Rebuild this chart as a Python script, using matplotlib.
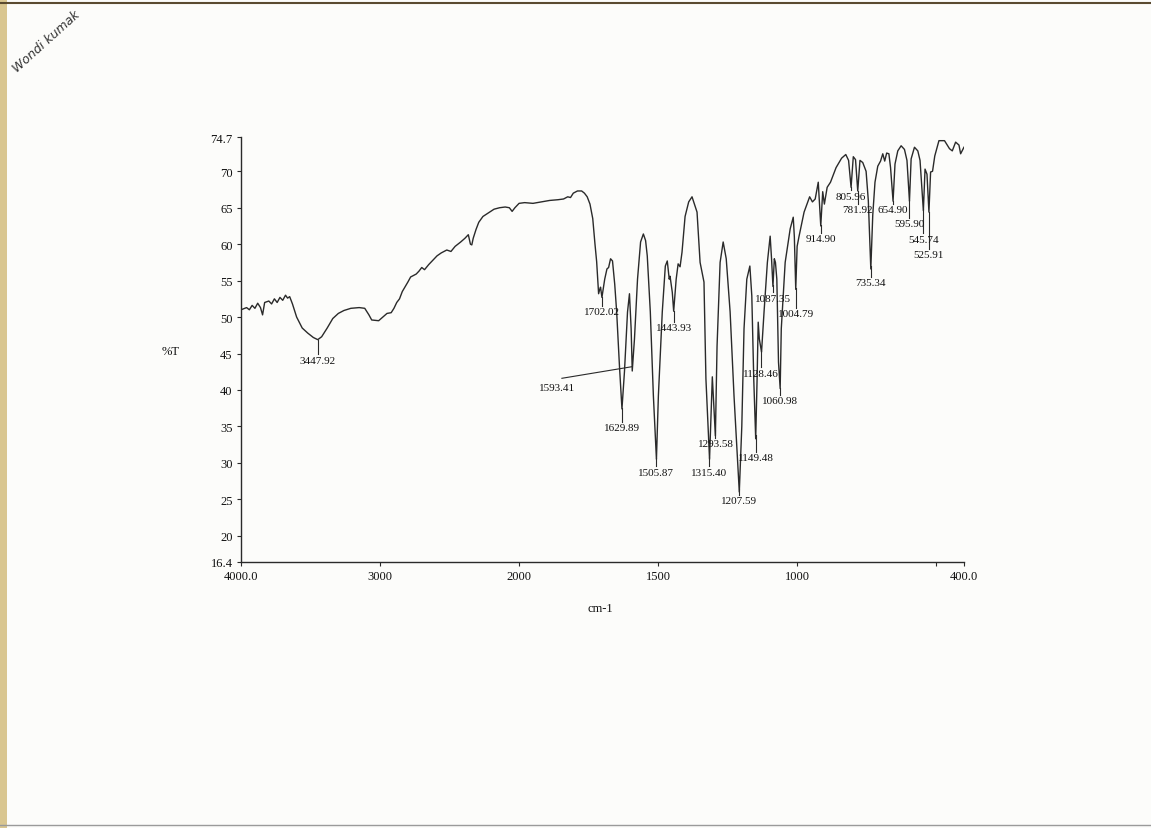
import matplotlib
matplotlib.use("Agg")
import matplotlib.pyplot as plt
import numpy as np
from matplotlib.patches import Rectangle
from matplotlib.lines import Line2D

plt.rcParams['font.family'] = ['Liberation Serif', 'DejaVu Serif']

# IR spectrum: wavenumber (cm-1) and %T
wn = [4000, 3960, 3940, 3920, 3900, 3880, 3860, 3845, 3830, 3800, 3780, 3760,
      3740, 3720, 3700, 3680, 3665, 3650, 3630, 3600, 3560, 3520, 3480, 3448,
      3420, 3380, 3340, 3300, 3260, 3210, 3150, 3110, 3080, 3060, 3010, 2980,
      2950, 2920, 2900, 2880, 2860, 2840, 2800, 2780, 2740, 2720, 2700, 2680,
      2650, 2620, 2590, 2560, 2520, 2490, 2460, 2420, 2390, 2365, 2350, 2340,
      2330, 2310, 2290, 2260, 2220, 2180, 2140, 2100, 2070, 2050, 2030, 2000,
      1980, 1950, 1920, 1890, 1860, 1840, 1825, 1815, 1805, 1790, 1775, 1765,
      1755, 1745, 1735, 1727, 1721, 1714, 1710, 1707, 1702, 1697, 1692, 1684,
      1678, 1671, 1664, 1656, 1649, 1639, 1630, 1621, 1610, 1603, 1597, 1593,
      1585, 1574, 1563, 1553, 1545, 1539, 1528, 1517, 1506, 1499, 1485, 1474,
      1467, 1460, 1457, 1449, 1444, 1435, 1428, 1421, 1414, 1403, 1390, 1378,
      1367, 1360, 1349, 1335, 1328, 1315, 1305, 1294, 1288, 1277, 1266, 1255,
      1241, 1227, 1218, 1208, 1199, 1191, 1181, 1170, 1163, 1156, 1149, 1144,
      1140, 1136, 1128, 1119, 1107, 1097, 1092, 1087, 1082, 1078, 1073, 1067,
      1061, 1057, 1043, 1025, 1014, 1010, 1005, 1000, 993, 975, 955, 945,
      935, 924, 915, 908, 902, 892, 880, 860, 840, 825, 815, 806,
      798, 790, 782, 774, 764, 752, 744, 735, 728, 720, 710, 700,
      692, 685, 678, 670, 664, 655, 648, 638, 626, 614, 605, 596,
      590, 578, 566, 558, 546, 540, 533, 526, 520, 513, 505, 490,
      470, 452, 442, 430, 418, 412, 400]
pct_t = [51.0, 51.3, 51.0, 51.6, 51.2, 51.9, 51.3, 50.3, 52.0, 52.2, 51.8, 52.5,
         52.0, 52.7, 52.3, 53.0, 52.6, 52.8, 51.8, 50.0, 48.5, 47.8, 47.2, 46.9,
         47.3, 48.5, 49.8, 50.5, 50.9, 51.2, 51.3, 51.2, 50.3, 49.6, 49.5, 50.0,
         50.5, 50.6, 51.2, 52.0, 52.5, 53.5, 54.8, 55.5, 55.9, 56.3, 56.8, 56.5,
         57.2, 57.8, 58.4, 58.8, 59.2, 59.0, 59.7, 60.3, 60.8, 61.3, 60.0, 59.9,
         60.8, 62.0, 63.0, 63.8, 64.3, 64.8, 65.0, 65.1, 65.0, 64.5, 65.0, 65.6,
         65.7, 65.6, 65.8, 66.0, 66.1, 66.2, 66.5, 66.4, 67.0, 67.3, 67.3, 67.0,
         66.5, 65.5, 63.5, 60.0, 57.6, 53.2, 53.8, 54.1, 52.7, 54.0, 55.2, 56.6,
         56.8, 58.0, 57.7, 54.5, 50.7, 43.3, 37.4, 42.5, 50.7, 53.2, 48.4, 42.6,
         47.0, 55.2, 60.3, 61.4, 60.5, 58.4, 50.7, 39.2, 30.5, 39.2, 50.7, 57.0,
         57.7, 55.2, 55.6, 53.4, 50.8, 55.2, 57.3, 56.9, 58.9, 63.8, 65.8, 66.5,
         65.2, 64.4, 57.5, 54.8, 41.5, 30.5, 41.8, 33.7, 46.0, 57.5, 60.3, 58.0,
         50.7, 39.2, 33.0, 26.0, 35.0, 48.4, 55.2, 57.0, 52.9, 41.5, 33.3, 41.5,
         49.3, 47.0, 45.2, 50.7, 57.5, 61.1, 58.0, 54.2, 58.0, 57.5, 55.2, 43.8,
         40.2, 48.4, 57.5, 62.1, 63.7, 61.0, 53.8, 59.7, 61.1, 64.4, 66.5, 65.8,
         66.2, 68.5, 62.5, 67.2, 65.5, 67.8, 68.5, 70.5, 71.8, 72.3, 71.5, 67.8,
         72.0, 71.6, 67.3, 71.5, 71.2, 70.0, 66.0, 56.6, 64.0, 68.5, 70.7, 71.4,
         72.4, 71.4, 72.5, 72.4, 70.5, 65.9, 71.0, 72.8, 73.5, 73.0, 71.5, 65.9,
         71.7, 73.3, 72.8, 71.5, 64.6, 70.3, 69.6, 64.4, 69.9, 70.0, 72.1, 74.2,
         74.2, 73.1, 72.8, 74.0, 73.6, 72.4, 73.3]

# peak labels and where their text sits (%T)
peak_wn = [3447.92, 1702.02, 1629.89, 1505.87, 1443.93, 1315.40, 1293.58,
           1207.59, 1149.48, 1128.46, 1087.35, 1060.98, 1004.79, 914.90,
           805.96, 781.92, 735.34, 654.90, 595.90, 545.74, 525.91]
label_y = [44.1, 50.7, 34.8, 28.7, 48.5, 28.7, 32.6, 24.8, 30.7, 42.3, 52.6,
           38.5, 50.5, 60.8, 66.6, 64.7, 54.7, 64.7, 62.8, 60.7, 58.6]

xticks = [4000, 3000, 2000, 1500, 1000, 500, 400]
xticklabels = ['4000.0', '3000', '2000', '1500', '1000', '', '400.0']
yticks = [16.4, 20, 25, 30, 35, 40, 45, 50, 55, 60, 65, 70, 74.7]
yticklabels = ['16.4', '20', '25', '30', '35', '40', '45', '50', '55', '60', '65', '70', '74.7']


def fwd(x):
    x = np.asarray(x, dtype=float)
    return np.where(x > 2000, 2000 + (x - 2000) / 2, x)


def inv(u):
    u = np.asarray(u, dtype=float)
    return np.where(u > 2000, 2000 + (u - 2000) * 2, u)


ink = '#2a2a2a'
fig = plt.figure(figsize=(11.51, 8.29), dpi=100, facecolor='#fcfcfa')
ax = fig.add_axes([0.2094, 0.3209, 0.6281, 0.5126])
ax.set_facecolor('none')
ax.set_xscale('function', functions=(fwd, inv))
ax.plot(wn, pct_t, color=ink, lw=1.0)
ax.set_xlim(4000, 400)
ax.set_ylim(16.4, 74.7)

for s in ['top', 'right']:
    ax.spines[s].set_visible(False)
for s in ['left', 'bottom']:
    ax.spines[s].set_color(ink)
    ax.spines[s].set_linewidth(1.0)

ax.set_xticks(xticks)
ax.set_xticklabels(xticklabels)
ax.set_yticks(yticks)
ax.set_yticklabels(yticklabels)
ax.xaxis.set_minor_locator(matplotlib.ticker.NullLocator())
ax.tick_params(axis='both', length=3, width=0.8, color=ink, labelcolor='#111111',
               labelsize=9, pad=3)

ax.set_ylabel('%T', rotation=0, fontsize=9, color='#111111')
ax.yaxis.set_label_coords(-0.098, 0.482)
ax.set_xlabel('cm-1', fontsize=9, color='#111111')
ax.xaxis.set_label_coords(0.497, -0.094)

# peak markers
xs = np.array(wn[::-1], dtype=float)
ys = np.array(pct_t[::-1], dtype=float)
for p, ly in zip(peak_wn, label_y):
    ymin = np.interp(p, xs, ys)
    ax.plot([p, p], [ymin, ly + 0.8], color=ink, lw=0.8)
    ax.text(p, ly, f'{p:.2f}', ha='center', va='center', fontsize=8, color='#111111')

# 1593.41 has a leader line out to the left
p = 1593.41
ymin = np.interp(p, xs, ys)
ax.plot([p, 1846], [ymin, 41.6], color=ink, lw=0.8)
ax.text(1862, 40.4, '1593.41', ha='center', va='center', fontsize=8, color='#111111')

# scanned page edges and the handwritten note
fig.add_artist(Rectangle((0, 0), 0.006, 1, transform=fig.transFigure,
                         color='#d9c690', lw=0))
fig.add_artist(Line2D([0, 1], [0.995, 0.995], transform=fig.transFigure,
                      color='#5a4a30', lw=1.5))
fig.add_artist(Line2D([0, 1], [0.004, 0.004], transform=fig.transFigure,
                      color='#9a9a9a', lw=1.0))
fig.text(0.040, 0.950, 'Wondi kumak', rotation=42, fontsize=9, style='italic',
         family=['DejaVu Sans'], color='#333333', ha='center', va='center')

fig.savefig('out.png', dpi=100, facecolor=fig.get_facecolor())
